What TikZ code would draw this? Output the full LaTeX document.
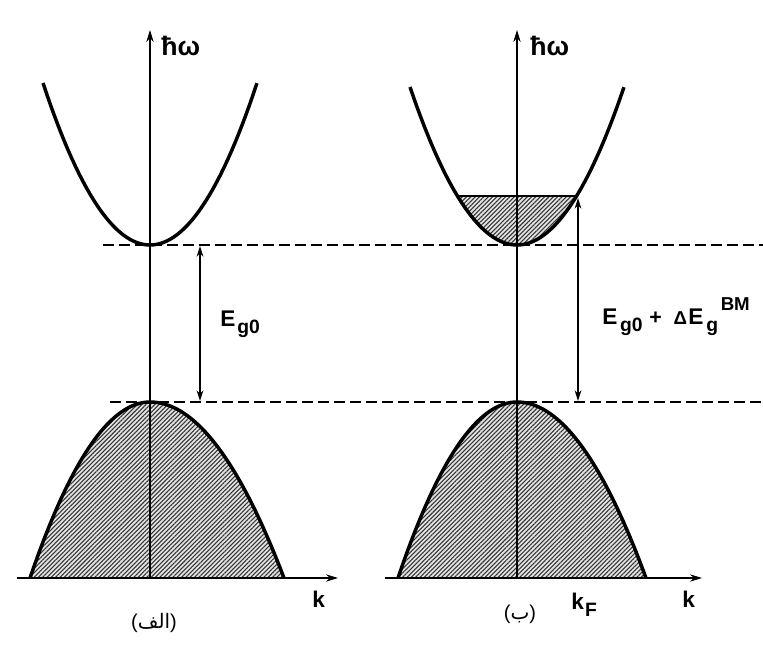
\documentclass[tikz,border=0pt]{standalone}
\usepackage{fontspec}
\setmainfont{Liberation Sans}
\newfontfamily\arabicfont[Script=Arabic]{DejaVu Sans}
\TeXXeTstate=1
\usetikzlibrary{patterns.meta,arrows.meta}
\newcommand{\subtxt}[1]{\raisebox{-5.5pt}{\fontsize{14.5}{14}\selectfont #1}}
\begin{document}
\begin{tikzpicture}[x=0.75pt,y=-0.75pt,
  axis/.style={line width=0.9pt,-{Stealth[length=9pt,width=5.5pt]}},
  band/.style={line width=2.6pt,line join=round},
  level/.style={line width=1.7pt,dash pattern=on 8pt off 4pt},
  gaparrow/.style={line width=0.9pt,{Stealth[length=8pt,width=5pt]}-{Stealth[length=8pt,width=5pt]}},
  hatch/.style={pattern={Lines[angle=45,distance=2.3pt,line width=0.8pt]},pattern color=black!80},
  shade/.style={fill=gray!22},
  lbl/.style={font=\fontsize{17}{20}\selectfont\bfseries,inner sep=0pt},
  hwlbl/.style={font=\fontsize{20}{22}\selectfont\bfseries,inner sep=0pt},
  arlbl/.style={font=\fontsize{15}{16}\selectfont,inner sep=0pt},
]
\useasboundingbox (0,0) rectangle (763,646);

% ---------- left panel ----------
\coordinate (LO) at (150,578);
\coordinate (LYtop) at (150,30);
\coordinate (LXl) at (17,578);
\coordinate (LXr) at (338,578);
\path[shade] plot[domain=-1:0,samples=40] ({150+120*\x},{578-176*(1-\x*\x)})
  -- plot[domain=0:1,samples=40] ({150+134*\x},{578-176*(1-\x*\x)}) -- cycle;
\path[hatch] plot[domain=-1:0,samples=40] ({150+120*\x},{578-176*(1-\x*\x)})
  -- plot[domain=0:1,samples=40] ({150+134*\x},{578-176*(1-\x*\x)}) -- cycle;
\draw[band] plot[domain=-1:0,samples=40] ({150+120*\x},{578-176*(1-\x*\x)})
  -- plot[domain=0:1,samples=40] ({150+134*\x},{578-176*(1-\x*\x)});
\draw[band] plot[domain=-1:1,samples=60] ({150+107*\x},{245-162*\x*\x});
\draw[axis] (LO) -- (LYtop);
\draw[axis] (LXl) -- (LXr);
\node[hwlbl,anchor=west] (lhw) at (161,46) {ħω};
\node[lbl,anchor=base west] (lk) at (312,607) {k};
\coordinate (LGt) at (200,246);
\coordinate (LGb) at (200,401);
\draw[gaparrow] (LGt) -- (LGb);
\node[lbl,anchor=base west] (leg) at (220,326) {E\hspace{1.5pt}\subtxt{g0}};
\node[arlbl] (lcap) at (154,623) {({\arabicfont\beginR الف\endR})};

% ---------- right panel ----------
\coordinate (RO) at (517,578);
\coordinate (RYtop) at (517,30);
\coordinate (RXl) at (385,578);
\coordinate (RXr) at (702,578);
\path[shade] plot[domain=-1:0,samples=40] ({517+119*\x},{578-176*(1-\x*\x)})
  -- plot[domain=0:1,samples=40] ({517+129*\x},{578-176*(1-\x*\x)}) -- cycle;
\path[hatch] plot[domain=-1:0,samples=40] ({517+119*\x},{578-176*(1-\x*\x)})
  -- plot[domain=0:1,samples=40] ({517+129*\x},{578-176*(1-\x*\x)}) -- cycle;
\draw[band] plot[domain=-1:0,samples=40] ({517+119*\x},{578-176*(1-\x*\x)})
  -- plot[domain=0:1,samples=40] ({517+129*\x},{578-176*(1-\x*\x)});
\path[shade] plot[domain=-0.557:0.557,samples=40] ({517+107*\x},{245-158*\x*\x}) -- cycle;
\path[hatch] plot[domain=-0.557:0.557,samples=40] ({517+107*\x},{245-158*\x*\x}) -- cycle;
\coordinate (RFl) at (457.4,196);
\coordinate (RFr) at (576.6,196);
\draw[line width=1.3pt] (RFl) -- (RFr);
\draw[band] plot[domain=-1:1,samples=60] ({517+107*\x},{245-158*\x*\x});
\draw[axis] (RO) -- (RYtop);
\draw[axis] (RXl) -- (RXr);
\node[hwlbl,anchor=west] (rhw) at (530,46) {ħω};
\node[lbl,anchor=base west] (rk) at (682,607) {k};
\node[lbl,anchor=base west] (rkf) at (571,609) {k\hspace{1pt}\subtxt{F}};
\coordinate (RGt) at (578,198);
\coordinate (RGb) at (578,401);
\draw[gaparrow] (RGt) -- (RGb);
\node[lbl,anchor=base west] (reg) at (602,324) {E\hspace{2pt}\subtxt{g0}\hspace{5pt}{\fontsize{16}{14}\selectfont +}\hspace{9pt}{\fontsize{14}{14}\selectfont Δ}\hspace{1pt}E\hspace{2pt}\subtxt{g}\hspace{2pt}\raisebox{10pt}{\fontsize{14}{14}\selectfont BM}};
\node[arlbl] (rcap) at (520,614) {({\arabicfont\beginR ب\endR})};

% ---------- energy levels ----------
\coordinate (CBl) at (103,245);
\coordinate (CBr) at (763,245);
\coordinate (VBl) at (110,402);
\coordinate (VBr) at (763,402);
\draw[level] (CBl) -- (CBr);
\draw[level] (VBl) -- (VBr);
\end{tikzpicture}
\end{document}
